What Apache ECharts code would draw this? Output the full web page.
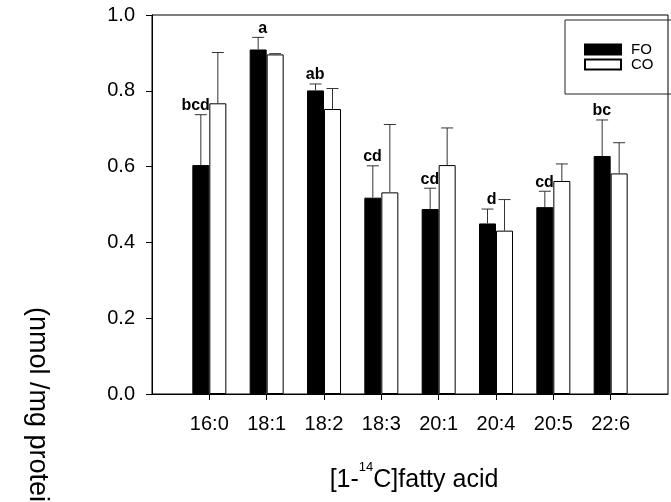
<!DOCTYPE html>
<html>
<head>
<meta charset="utf-8">
<script src="https://cdn.jsdelivr.net/npm/echarts@6/dist/echarts.min.js"></script>
<style>
html,body{margin:0;padding:0;background:#fff;}
#chart{width:671px;height:502px;}
</style>
</head>
<body>
<div id="chart"></div>
<script>
var categories = ['16:0', '18:1', '18:2', '18:3', '20:1', '20:4', '20:5', '22:6'];
var foValues = [0.604, 0.909, 0.801, 0.518, 0.488, 0.450, 0.493, 0.628];
var foErrors = [0.133, 0.032, 0.017, 0.084, 0.055, 0.038, 0.042, 0.095];
var coValues = [0.767, 0.896, 0.752, 0.532, 0.604, 0.431, 0.562, 0.582];
var coErrors = [0.134, 0.002, 0.054, 0.179, 0.098, 0.082, 0.045, 0.081];
var letters = ['bcd', 'a', 'ab', 'cd', 'cd', 'd', 'cd', 'bc'];
var yTicks = [0, 0.2, 0.4, 0.6, 0.8, 1.0];

var FONT = "'Liberation Sans', Arial, sans-serif";
var BAR_W = 17;

// padded category axis: empty slot before and after
var axisCats = [''].concat(categories).concat(['']);
function pad(arr) { return [null].concat(arr).concat([null]); }

function errData(vals, errs, labs) {
  return vals.map(function (v, i) { return [i + 1, v, errs[i], labs ? labs[i] : '']; });
}

function makeErrRender(sign, withLabel) {
  return function (params, api) {
    var idx = api.value(0), v = api.value(1), e = api.value(2);
    var p0 = api.coord([idx, v]);
    var p1 = api.coord([idx, v + e]);
    var x = p0[0] + sign * BAR_W / 2;
    var children = [
      { type: 'line', shape: { x1: x, y1: p0[1], x2: x, y2: p1[1] }, style: { stroke: '#333', lineWidth: 1 } },
      { type: 'line', shape: { x1: x - 6, y1: p1[1], x2: x + 6, y2: p1[1] }, style: { stroke: '#333', lineWidth: 1 } }
    ];
    if (withLabel) {
      children.push({
        type: 'text',
        style: { text: api.value(3), x: x + 9, y: p1[1] - 1, align: 'right', verticalAlign: 'bottom',
                 font: 'bold 16px ' + FONT, fill: '#000' }
      });
    }
    return { type: 'group', children: children };
  };
}

var chart = echarts.init(document.getElementById('chart'), null, { renderer: 'canvas' });
chart.setOption({
  animation: false,
  backgroundColor: '#fff',
  textStyle: { fontFamily: FONT },
  grid: { left: 152, top: 15, width: 520, height: 379, show: true, borderColor: '#000', borderWidth: 1, backgroundColor: 'transparent' },
  legend: {
    left: 565, top: 20, orient: 'vertical',
    padding: [22, 80, 22, 19],
    itemWidth: 36, itemHeight: 10, itemGap: 0,
    icon: 'rect',
    borderColor: '#222', borderWidth: 1,
    textStyle: { fontSize: 15, color: '#000', fontFamily: FONT, lineHeight: 15, padding: [0, 0, 0, 5] },
    data: ['FO', 'CO']
  },
  xAxis: {
    type: 'category',
    data: axisCats,
    boundaryGap: false,
    axisLine: { lineStyle: { color: '#000', width: 1 } },
    axisTick: { show: true, length: 6, lineStyle: { color: '#000' }, interval: function (i, v) { return v !== ''; } },
    axisLabel: { fontSize: 20, color: '#000', margin: 20, fontFamily: FONT, interval: 0 },
    splitLine: { show: false }
  },
  yAxis: {
    type: 'value', min: 0, max: 1, interval: 0.2,
    axisLine: { show: true, lineStyle: { color: '#000', width: 1 } },
    axisTick: { show: true, length: 6, lineStyle: { color: '#000' } },
    axisLabel: { fontSize: 20, color: '#000', margin: 17, fontFamily: FONT,
                 formatter: function (v) { return v.toFixed(1); } },
    splitLine: { show: false }
  },
  graphic: [
    {
      type: 'text', x: 414, y: 461,
      style: {
        text: '{n|[1-}{s|14}{n|C]fatty acid}',
        align: 'center', verticalAlign: 'top',
        rich: {
          n: { fontSize: 25, fontFamily: FONT, fill: '#000', verticalAlign: 'bottom', lineHeight: 32 },
          s: { fontSize: 13, fontFamily: FONT, fill: '#000', verticalAlign: 'top', lineHeight: 13 }
        }
      }
    },
    {
      type: 'text', x: 37, y: 307, rotation: -Math.PI / 2,
      style: { text: '(nmol /mg protein)', fontSize: 27, fontFamily: FONT, fill: '#000', align: 'left', verticalAlign: 'middle' }
    }
  ],
  series: [
    { name: 'FO', type: 'bar', data: pad(foValues), barWidth: BAR_W, barGap: '0%',
      itemStyle: { color: '#000', borderColor: '#000', borderWidth: 1 } },
    { name: 'CO', type: 'bar', data: pad(coValues), barWidth: BAR_W, barGap: '0%',
      itemStyle: { color: '#fff', borderColor: '#000', borderWidth: 1 } },
    { name: 'FO err', type: 'custom', data: errData(foValues, foErrors, letters), clip: false, z: 5,
      encode: { x: 0, y: 1 }, renderItem: makeErrRender(-1, true) },
    { name: 'CO err', type: 'custom', data: errData(coValues, coErrors), clip: false, z: 5,
      encode: { x: 0, y: 1 }, renderItem: makeErrRender(1, false) }
  ]
});
</script>
</body>
</html>
